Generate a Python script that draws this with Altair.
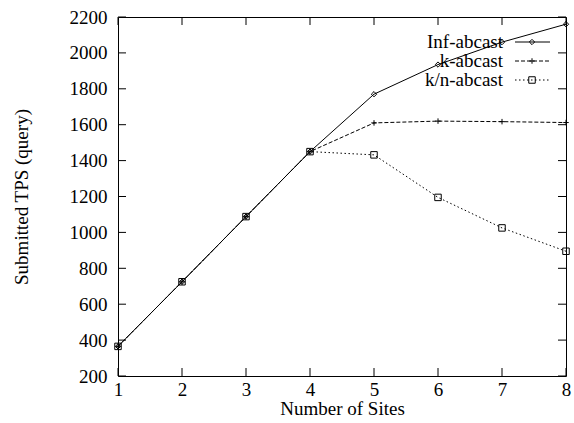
import altair as alt
import pandas as pd

sites = [1, 2, 3, 4, 5, 6, 7, 8]
inf_abcast = [365, 725, 1088, 1450, 1770, 1935, 2060, 2160]
k_abcast = [365, 725, 1088, 1450, 1610, 1620, 1617, 1612]
kn_abcast = [365, 725, 1088, 1450, 1432, 1195, 1025, 895]
series_names = ["Inf-abcast", "k-abcast", "k/n-abcast"]
y_ticks = [200, 400, 600, 800, 1000, 1200, 1400, 1600, 1800, 2000, 2200]

FONT = "Liberation Serif, Times New Roman, Times, serif"
FS = 19
W, H = 448, 359

xs = alt.Scale(domain=[1, 8], nice=False)
ys = alt.Scale(domain=[200, 2200], nice=False)

def df(vals):
    return pd.DataFrame({"x": sites, "y": vals})

x_axis = alt.Axis(values=sites, format="d", ticks=False, domain=False, grid=False,
                  labelFont=FONT, labelFontSize=FS, labelColor="black", labelPadding=4,
                  labelOverlap=False, labelFlush=False,
                  title="Number of Sites", titleFont=FONT, titleFontSize=FS,
                  titleFontWeight="normal", titleColor="black", titlePadding=0)
y_axis = alt.Axis(values=y_ticks, format="d", ticks=False, domain=False, grid=False,
                  labelFont=FONT, labelFontSize=FS, labelColor="black", labelPadding=11,
                  labelOverlap=False, labelFlush=False,
                  title="Submitted TPS (query)", titleFont=FONT, titleFontSize=FS,
                  titleFontWeight="normal", titleColor="black", titlePadding=38)

def X():
    return alt.X("x:Q", scale=xs, axis=x_axis)

def Y():
    return alt.Y("y:Q", scale=ys, axis=y_axis)

plus_path = "M-1,0L1,0M0,-1L0,1"
styles = [
    (inf_abcast, [], "diamond", 28),
    (k_abcast, [4, 2], plus_path, 30),
    (kn_abcast, [1.5, 2.5], "square", 42),
]

layers = []
for vals, dash, shape, size in styles:
    d = df(vals)
    line_kw = dict(color="black", strokeWidth=1)
    if dash:
        line_kw["strokeDash"] = dash
    layers.append(alt.Chart(d).mark_line(**line_kw).encode(x=X(), y=Y()))
    layers.append(alt.Chart(d).mark_point(shape=shape, size=size, color="black",
                                          filled=False, strokeWidth=1, opacity=1)
                  .encode(x=X(), y=Y()))

# inward ticks on all four sides
TL = 8
xt = pd.DataFrame({"x": sites})
yt = pd.DataFrame({"y": y_ticks})
layers.append(alt.Chart(xt).mark_rule(color="black", strokeWidth=1).encode(
    x=X(), y=alt.value(H), y2=alt.value(H - TL)))
layers.append(alt.Chart(xt).mark_rule(color="black", strokeWidth=1).encode(
    x=X(), y=alt.value(0), y2=alt.value(TL)))
layers.append(alt.Chart(yt).mark_rule(color="black", strokeWidth=1).encode(
    y=Y(), x=alt.value(0), x2=alt.value(TL)))
layers.append(alt.Chart(yt).mark_rule(color="black", strokeWidth=1).encode(
    y=Y(), x=alt.value(W), x2=alt.value(W - TL)))

# manual legend (label left of sample, gnuplot style)
leg_y = [25, 44, 63]
for i, (name, (vals, dash, shape, size)) in enumerate(zip(series_names, styles)):
    ld = pd.DataFrame({"label": [name]})
    layers.append(alt.Chart(ld).mark_text(font=FONT, fontSize=FS, align="right",
                                          baseline="middle", color="black").encode(
        text="label:N", x=alt.value(385), y=alt.value(leg_y[i])))
    rule_kw = dict(color="black", strokeWidth=1)
    if dash:
        rule_kw["strokeDash"] = dash
    layers.append(alt.Chart(ld).mark_rule(**rule_kw).encode(
        x=alt.value(397), x2=alt.value(432), y=alt.value(leg_y[i])))
    layers.append(alt.Chart(ld).mark_point(shape=shape, size=size, color="black",
                                           filled=False, strokeWidth=1, opacity=1).encode(
        x=alt.value(414), y=alt.value(leg_y[i])))

chart = alt.layer(*layers).properties(
    width=W, height=H,
    autosize=alt.AutoSizeParams(type="none"),
    padding={"left": 118, "top": 17, "right": 8, "bottom": 47},
    background="white",
).configure(font=FONT).configure_text(font=FONT).configure_view(stroke="black", strokeWidth=1)

chart.save("out.html", embed_options={"renderer": "svg", "actions": False})
